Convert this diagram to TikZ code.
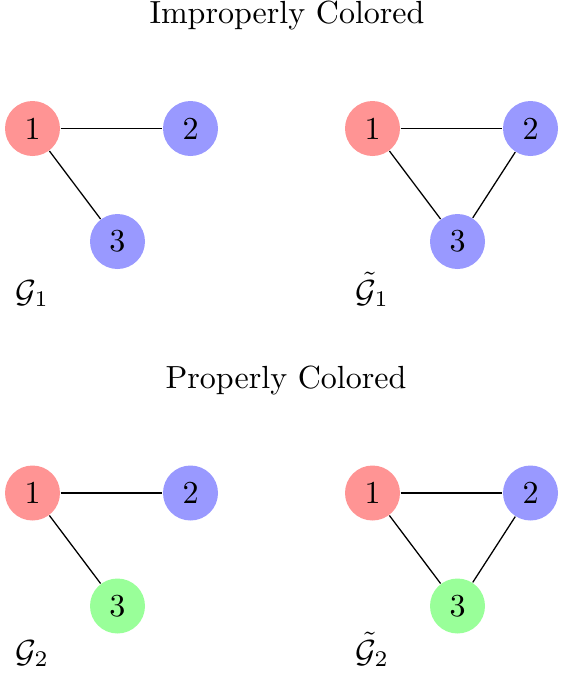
\documentclass[tikz,border=0pt]{standalone}
\usepackage{amsmath}
\begin{document}
\begin{tikzpicture}[x=0.3125pt,y=-0.3125pt,
  vtx/.style={circle,inner sep=0pt,minimum size=55*0.3125pt},
  rv/.style={vtx,fill=red!42},
  bv/.style={vtx,fill=blue!40},
  gv/.style={vtx,fill=green!40},
  edge/.style={draw=black,line width=0.4pt},
  ttl/.style={anchor=base},
  lbl/.style={anchor=base west,inner sep=0pt}]
\useasboundingbox (0,0) rectangle (560,675);
% top titles
\node[ttl] (t1) at (287,23) {Improperly Colored};
\node[ttl] (t2) at (286,388) {Properly Colored};
% top-left
\node[rv] (a1) at (32.5,128.5) {1};
\node[bv] (a2) at (190.5,128.5) {2};
\node[bv] (a3) at (117.5,241.5) {3};
\draw[edge] (a1) -- (a2);
\draw[edge] (a1) -- (a3);
\node[lbl] (la) at (15,302) {$\mathcal{G}_1$};
% top-right
\node[rv] (b1) at (372.5,128.5) {1};
\node[bv] (b2) at (530.5,128.5) {2};
\node[bv] (b3) at (457.5,241.5) {3};
\draw[edge] (b1) -- (b2);
\draw[edge] (b1) -- (b3);
\draw[edge] (b2) -- (b3);
\node[lbl] (lb) at (355,302) {$\tilde{\mathcal{G}}_1$};
% bottom-left
\node[rv] (c1) at (32.5,493) {1};
\node[bv] (c2) at (190.5,493) {2};
\node[gv] (c3) at (117.5,606) {3};
\draw[edge] (c1) -- (c2);
\draw[edge] (c1) -- (c3);
\node[lbl] (lc) at (15,662) {$\mathcal{G}_2$};
% bottom-right
\node[rv] (d1) at (372.5,493) {1};
\node[bv] (d2) at (530.5,493) {2};
\node[gv] (d3) at (457.5,606) {3};
\draw[edge] (d1) -- (d2);
\draw[edge] (d1) -- (d3);
\draw[edge] (d2) -- (d3);
\node[lbl] (ld) at (355,662) {$\tilde{\mathcal{G}}_2$};
\end{tikzpicture}
\end{document}
